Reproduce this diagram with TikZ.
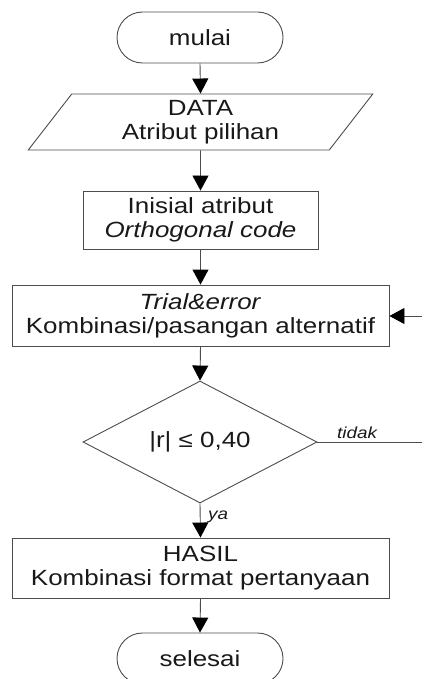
\documentclass[tikz,border=0pt]{standalone}
\usepackage{fontspec}
\setmainfont[FakeStretch=1.18]{Liberation Sans}
\usetikzlibrary{shapes.geometric,shapes.misc,arrows.meta}

\tikzset{
  x=1pt, y=-1pt,
  every node/.style={text=black!90, font=\fontsize{22}{24}\selectfont, inner sep=0pt},
  shapeline/.style={draw=black!70, line width=0.9pt},
  terminal/.style={shapeline, rounded rectangle, minimum width=166pt, minimum height=51pt},
  process/.style={shapeline, rectangle, align=center},
  iobox/.style={shapeline, trapezium, trapezium left angle=58.7, trapezium right angle=121.3,
    trapezium stretches=true, minimum width=345pt, minimum height=56pt, align=center},
  decision/.style={shapeline, diamond, aspect=1.92, minimum width=234pt, minimum height=122pt},
  plainline/.style={draw=black!70, line width=0.9pt},
  flow/.style={plainline, -{Triangle[width=16pt,length=15pt,color=black,fill=black]}},
  branch/.style={font=\itshape\fontsize{16}{18}\selectfont}
}

\begin{document}
\begin{tikzpicture}
  \useasboundingbox (0,0) rectangle (422,679);
  \clip (0,0) rectangle (422,679);

  \node[terminal] (mulai) at (200,37.5) {mulai};
  \node[iobox] (data) at (200.5,122) {DATA\\Atribut pilihan};
  \node[process, minimum width=235pt, minimum height=58pt] (inisial) at (200.5,220)
    {Inisial atribut\\\textit{Orthogonal code}};
  \node[process, minimum width=377pt, minimum height=61pt] (trial) at (200.5,315.5)
    {\textit{Trial\&error}\\Kombinasi/pasangan alternatif};
  \node[decision] (cek) at (200,442) {|r| ≤ 0,40};
  \node[process, minimum width=377pt, minimum height=60pt] (hasil) at (200.5,568)
    {HASIL\\Kombinasi format pertanyaan};
  \node[terminal] (selesai) at (200,658.5) {selesai};

  % loop-back ends at the right margin
  \coordinate (tidakEnd) at (422,442);
  \coordinate (ulangStart) at (422,316);

  \draw[flow] (mulai.south) -- (data.south |- data.north);
  \draw[flow] (data.south) -- (inisial.north);
  \draw[flow] (inisial.south) -- (trial.north);
  \draw[flow] (trial.south) -- (cek.north);
  \draw[flow] (cek.south) -- (hasil.north);
  \draw[flow] (hasil.south) -- (selesai.north);
  \draw[plainline] (cek.east) -- (tidakEnd);
  \draw[flow] (ulangStart) -- (trial.east |- ulangStart);

  \node[branch, anchor=base west] (tidak) at (337,438) {tidak};
  \node[branch, anchor=base west] (ya) at (208,519) {ya};
\end{tikzpicture}
\end{document}
